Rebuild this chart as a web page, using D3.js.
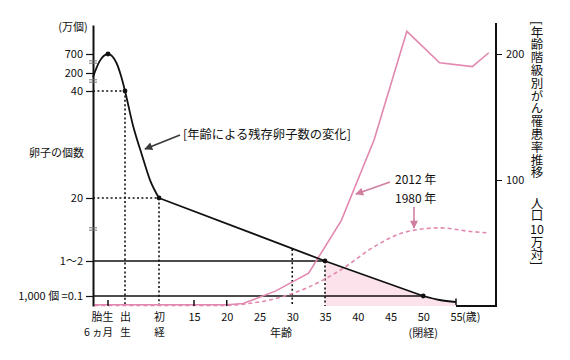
<!DOCTYPE html>
<html><head><meta charset="utf-8">
<script src="https://cdn.jsdelivr.net/npm/d3@7"></script>
<style>
body{margin:0;background:#fff}
svg{display:block}
text{font-family:"Noto Sans CJK JP","Noto Sans",sans-serif;fill:#111}
</style>
</head><body><svg id="c" width="570" height="360"></svg>
<script>
// ---------- data ----------
const xTickAges   = [-0.5, 0, 12, 15, 20, 25, 30, 35, 40, 45, 50, 55];
const xTickLabels = [["胎生","6 ヵ月"],["出","生"],["初","経"],["15"],["20"],["25"],["30"],["35"],["40"],["45"],["50"],["55"]];
const xSmallTicks = [-0.5, 15, 20];
const yTickValues = [700, 200, 40, 20, 1.5, 0.1];
const yTickLabels = ["700","200","40","20","1〜2","1,000 個 =0.1"];
const rTickValues = [100, 200];

// remaining egg count (万個) by age: curved head, straight middle, curved tail
const headAges   = [-0.94, -0.75, -0.5, -0.25, -0.12, 0, 2.8, 6, 8.8, 12];
const headCounts = [164, 505, 700, 463, 177, 40, 33.6, 28, 23.4, 20];
const midAges    = [12, 35, 50];
const midCounts  = [20, 1.5, 0.1];
const tailAges   = [50, 52.5, 55];
const tailCounts = [0.1, 0.06, 0.04];
const markAges   = [-0.5, 0, 12, 35, 50];
const markCounts = [700, 40, 20, 1.5, 0.1];
// guide lines
const vGuideAges   = [0, 12, 30, 35];
const vGuideCounts = [40, 20, 5, 1.5];
const hDotCounts = [40, 20];
const hDotAges   = [0, 12];
const hSolidCounts = [1.5, 0.1];
const hSolidAges   = [35, 50];
const fillFromAge = 35;

// cancer incidence per 100k
const cancerAges = [-0.9, 20, 22.5, 27.5, 32.5, 37.5, 42.5, 47.5, 52.5, 57.5, 60];
const rate2012   = [1, 1, 2, 12, 26, 68, 132, 218, 193, 190, 201];
const rate1980   = [0.5, 0.5, 1.5, 6, 15, 29, 47, 59, 62, 59, 58];

const rightTitleParts = ["[年齢階級別がん罹患率推移", "人口", "10", "万対]"];

// ---------- scales ----------
const svg = d3.select("#c");
const x  = d3.scaleLinear().domain([-0.5, 0, 12, 15, 55]).range([108, 125, 159, 194, 456]);
const y  = d3.scaleLinear().domain([0, 0.1, 1.5, 20, 40, 200, 700, 1100]).range([306, 296, 261, 198, 91, 73, 54, 25]);
const yR = d3.scaleLinear().domain([0, 200]).range([306, 54]);
const LX = 93, RX = 496, BY = 306;

const pinkLine = "#e288b0", pinkFill = "#fbe2eb", pinkArrow = "#cf7fa0";

const defs = svg.append("defs");
function marker(id, color){
  defs.append("marker").attr("id", id).attr("viewBox","0 0 10 10").attr("refX",9).attr("refY",5)
    .attr("markerWidth",10).attr("markerHeight",8).attr("markerUnits","userSpaceOnUse").attr("orient","auto")
    .append("path").attr("d","M0,0L10,5L0,10Z").attr("fill", color);
}
marker("ab","#3a3a3a"); marker("ap", pinkArrow);

const pts = (ages, vals)=>ages.map((a,i)=>[a, vals[i]]);
const headPts = pts(headAges, headCounts), midPts = pts(midAges, midCounts), tailPts = pts(tailAges, tailCounts);

// ---------- fill under egg curve ----------
svg.append("path").datum(midPts.filter(p=>p[0]>=fillFromAge))
  .attr("d", d3.area().x(d=>x(d[0])).y0(y(0)).y1(d=>y(d[1])))
  .attr("fill", pinkFill);
svg.append("path").datum(tailPts)
  .attr("d", d3.area().x(d=>x(d[0])).y0(y(0)).y1(d=>y(d[1])).curve(d3.curveMonotoneX))
  .attr("fill", pinkFill);

// ---------- guide lines ----------
vGuideAges.forEach((a,i)=>{
  svg.append("line").attr("x1",x(a)).attr("x2",x(a)).attr("y1",y(vGuideCounts[i])).attr("y2",BY)
    .attr("stroke","#111").attr("stroke-width",1.6).attr("stroke-dasharray","2,2.4");
});
hDotCounts.forEach((c,i)=>{
  svg.append("line").attr("x1",LX).attr("x2",x(hDotAges[i])).attr("y1",y(c)).attr("y2",y(c))
    .attr("stroke","#111").attr("stroke-width",1.6).attr("stroke-dasharray","2,2.4");
});
hSolidCounts.forEach((c,i)=>{
  svg.append("line").attr("x1",LX).attr("x2",x(hSolidAges[i])).attr("y1",y(c)).attr("y2",y(c))
    .attr("stroke","#111").attr("stroke-width",1.5);
});

// ---------- cancer lines ----------
svg.append("path").datum(pts(cancerAges, rate1980))
  .attr("d", d3.line().x(d=>x(d[0])).y(d=>yR(d[1])).curve(d3.curveMonotoneX))
  .attr("fill","none").attr("stroke",pinkLine).attr("stroke-width",1.6).attr("stroke-dasharray","4,3");
svg.append("path").datum(pts(cancerAges, rate2012))
  .attr("d", d3.line().x(d=>x(d[0])).y(d=>yR(d[1])))
  .attr("fill","none").attr("stroke",pinkLine).attr("stroke-width",1.6);

// ---------- egg curve ----------
const eggStroke = p=>p.attr("fill","none").attr("stroke","#111").attr("stroke-width",1.8).attr("stroke-linejoin","round");
svg.append("path").datum(headPts).attr("d", d3.line().x(d=>x(d[0])).y(d=>y(d[1])).curve(d3.curveMonotoneX)).call(eggStroke);
svg.append("path").datum(midPts).attr("d", d3.line().x(d=>x(d[0])).y(d=>y(d[1]))).call(eggStroke);
svg.append("path").datum(tailPts).attr("d", d3.line().x(d=>x(d[0])).y(d=>y(d[1])).curve(d3.curveMonotoneX)).call(eggStroke);
svg.selectAll(".mk").data(markAges).enter().append("circle")
  .attr("cx",d=>x(d)).attr("cy",(d,i)=>y(markCounts[i])).attr("r",2.4).attr("fill","#111");
// end bar at 55
const endC = tailCounts[tailCounts.length-1];
svg.append("line").attr("x1",x(55)).attr("x2",x(55)).attr("y1",y(endC)-3.5).attr("y2",y(endC)+3)
  .attr("stroke","#111").attr("stroke-width",1.5);

// ---------- axes ----------
const gl = svg.append("g").attr("transform",`translate(${LX},0)`)
  .call(d3.axisLeft(y).tickValues(yTickValues).tickFormat((d,i)=>yTickLabels[i]).tickSize(7).tickSizeOuter(0).tickPadding(3));
gl.select(".domain").attr("stroke","#111").attr("stroke-width",2);
gl.selectAll(".tick line").attr("stroke","#111").attr("stroke-width",1.2);
gl.selectAll(".tick text").attr("font-size",11).attr("fill","#111").style("font-family",'"Noto Sans CJK JP",sans-serif');

// axis break marks
[62, 81, 229].forEach(by=>{
  [-1.2, 1.2].forEach(o=>svg.append("line").attr("x1",LX-4).attr("x2",LX+4).attr("y1",by+o).attr("y2",by+o)
    .attr("stroke","#777").attr("stroke-width",1));
});

const gr = svg.append("g").attr("transform",`translate(${RX},0)`)
  .call(d3.axisRight(yR).tickValues(rTickValues).tickSize(6).tickSizeOuter(0).tickPadding(4));
gr.select(".domain").remove();
gr.selectAll(".tick line").attr("stroke","#111").attr("stroke-width",1);
gr.selectAll(".tick text").attr("font-size",11).attr("fill","#111").style("font-family",'"Noto Sans CJK JP",sans-serif');
svg.append("line").attr("x1",RX).attr("x2",RX).attr("y1",23).attr("y2",BY+1).attr("stroke","#111").attr("stroke-width",2);
svg.append("line").attr("x1",x(55)).attr("x2",RX).attr("y1",BY).attr("y2",BY).attr("stroke","#111").attr("stroke-width",2);

// x axis labels
const gx = svg.append("g").attr("transform",`translate(0,${BY})`)
  .call(d3.axisBottom(x).tickValues(xTickAges).tickSize(0).tickFormat(""));
gx.select(".domain").remove();
gx.selectAll(".tick").each(function(d,i){
  const g = d3.select(this);
  xTickLabels[i].forEach((s,j)=>{
    let dx = 0;
    if(i===0) dx = j===0 ? -6 : -10;
    g.append("text").attr("font-size", j===0 ? 11 : 10.5).attr("text-anchor","middle").attr("fill","#111")
      .attr("x",dx).attr("y", j===0 ? 14.5 : 30).text(s);
  });
});
xSmallTicks.forEach(a=>{
  svg.append("line").attr("x1",x(a)).attr("x2",x(a)).attr("y1",BY-6).attr("y2",BY).attr("stroke","#111").attr("stroke-width",1.5);
});

// ---------- texts ----------
const T = (tx,ty,s,fs,anchor)=>svg.append("text").attr("x",tx).attr("y",ty).attr("font-size",fs).attr("text-anchor",anchor||"start").text(s);
T(73,31,"(万個)",11,"middle");
T(84,157,"卵子の個数",11,"end");
T(462,320.5,"(歳)",11,"start");
T(281,337,"年齢",11,"middle");
T(x(50),337,"(閉経)",11,"middle");
T(183,139,"[年齢による残存卵子数の変化]",12.3,"start");
T(395,184,"2012 年",12,"start");
T(395,203,"1980 年",12,"start");

// arrows
svg.append("line").attr("x1",180).attr("y1",135).attr("x2",145).attr("y2",149)
  .attr("stroke","#3a3a3a").attr("stroke-width",1.6).attr("marker-end","url(#ab)");
svg.append("line").attr("x1",390).attr("y1",182).attr("x2",356).attr("y2",194)
  .attr("stroke",pinkArrow).attr("stroke-width",1.6).attr("marker-end","url(#ap)");
svg.append("line").attr("x1",414).attr("y1",207).attr("x2",414).attr("y2",228)
  .attr("stroke",pinkArrow).attr("stroke-width",1.6).attr("marker-end","url(#ap)");

// right vertical title (vertical writing, "10" set horizontally)
const V = (ty,s)=>svg.append("text").attr("x",537).attr("y",ty).attr("font-size",12.5)
  .style("writing-mode","vertical-rl").style("letter-spacing","0.3px").text(s);
V(21, rightTitleParts[0]);
V(196.5, rightTitleParts[1]);
svg.append("text").attr("x",537).attr("y",233.5).attr("font-size",12.5).attr("text-anchor","middle").text(rightTitleParts[2]);
V(235.5, rightTitleParts[3]);
</script>
</body></html>
